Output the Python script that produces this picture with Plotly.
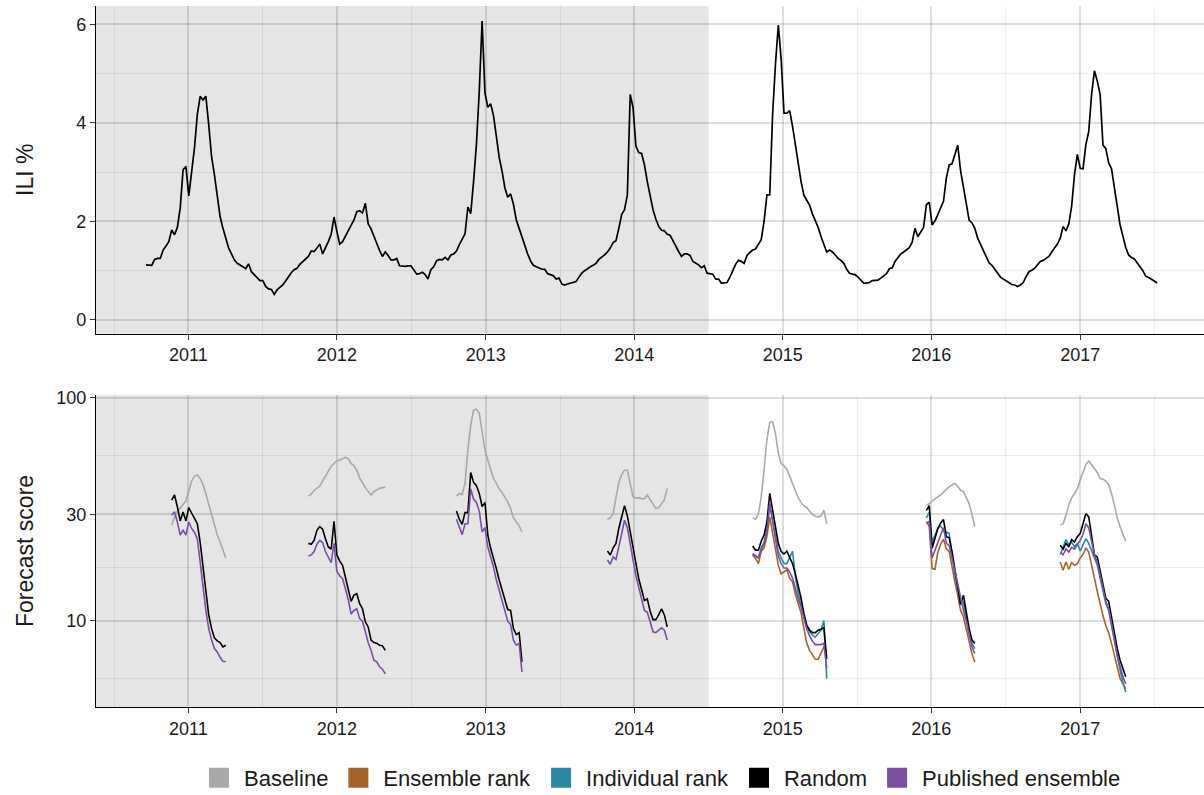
import pandas as pd
import plotly.graph_objects as go

# ---------------------------------------------------------------- ILI series
ili_start = "2010-09-19"   # first weekly observation (week start, Sunday)
ili_pct = [
    1.12, 1.12, 1.11, 1.23, 1.25, 1.25, 1.42, 1.50, 1.59, 1.83,
    1.73, 1.88, 2.27, 3.05, 3.12, 2.52, 2.95, 3.49, 4.17, 4.54,
    4.47, 4.54, 3.97, 3.32, 2.95, 2.54, 2.10, 1.86, 1.66, 1.46,
    1.34, 1.22, 1.15, 1.12, 1.08, 1.04, 1.14, 0.98, 0.92, 0.85,
    0.80, 0.80, 0.68, 0.63, 0.62, 0.52, 0.61, 0.66, 0.71, 0.79,
    0.88, 0.96, 1.02, 1.05, 1.13, 1.19, 1.23, 1.29, 1.40, 1.39,
    1.46, 1.54, 1.34, 1.46, 1.59, 1.74, 2.09, 1.80, 1.54, 1.59,
    1.71, 1.83, 1.92, 2.03, 2.20, 2.22, 2.17, 2.37, 1.95, 1.85,
    1.69, 1.54, 1.41, 1.29, 1.38, 1.31, 1.22, 1.22, 1.25, 1.10,
    1.09, 1.09, 1.10, 1.10, 1.02, 0.93, 0.94, 0.97, 0.92, 0.83,
    1.02, 1.08, 1.20, 1.23, 1.22, 1.27, 1.22, 1.32, 1.34, 1.40,
    1.53, 1.65, 1.75, 2.29, 2.16, 2.81, 3.56, 4.64, 6.07, 4.61,
    4.32, 4.39, 4.15, 3.73, 3.30, 3.02, 2.68, 2.49, 2.56, 2.35,
    2.03, 1.86, 1.67, 1.49, 1.34, 1.20, 1.11, 1.08, 1.06, 1.03,
    1.03, 0.94, 0.92, 0.90, 0.83, 0.85, 0.73, 0.71, 0.73, 0.75,
    0.76, 0.78, 0.87, 0.95, 1.00, 1.05, 1.08, 1.11, 1.15, 1.23,
    1.27, 1.32, 1.38, 1.46, 1.57, 1.61, 1.86, 2.14, 2.24, 2.54,
    4.58, 4.31, 3.53, 3.40, 3.38, 3.15, 2.81, 2.49, 2.24, 2.05,
    1.90, 1.82, 1.81, 1.74, 1.72, 1.61, 1.49, 1.39, 1.29, 1.34,
    1.34, 1.31, 1.19, 1.15, 1.12, 1.06, 1.10, 0.95, 0.94, 0.93,
    0.83, 0.83, 0.75, 0.75, 0.76, 0.87, 1.02, 1.13, 1.21, 1.19,
    1.15, 1.31, 1.37, 1.42, 1.44, 1.54, 1.63, 2.00, 2.54, 2.54,
    4.17, 5.19, 5.99, 5.30, 4.20, 4.20, 4.25, 3.93, 3.56, 3.15,
    2.81, 2.53, 2.44, 2.33, 2.15, 2.03, 1.88, 1.69, 1.53, 1.38,
    1.42, 1.38, 1.32, 1.25, 1.21, 1.15, 1.03, 0.95, 0.93, 0.92,
    0.87, 0.80, 0.75, 0.75, 0.76, 0.80, 0.80, 0.81, 0.85, 0.90,
    0.94, 1.04, 1.06, 1.19, 1.27, 1.34, 1.38, 1.42, 1.47, 1.58,
    1.86, 1.69, 1.80, 1.88, 2.34, 2.39, 1.93, 2.01, 2.14, 2.27,
    2.41, 2.88, 3.15, 3.17, 3.36, 3.55, 3.03, 2.68, 2.34, 2.03,
    1.97, 1.86, 1.66, 1.53, 1.39, 1.27, 1.16, 1.11, 1.03, 0.94,
    0.87, 0.83, 0.79, 0.75, 0.72, 0.71, 0.68, 0.71, 0.76, 0.88,
    0.98, 1.01, 1.05, 1.12, 1.19, 1.21, 1.25, 1.29, 1.38, 1.46,
    1.54, 1.66, 1.90, 1.81, 1.95, 2.31, 2.95, 3.36, 3.08, 3.07,
    3.56, 3.83, 4.58, 5.06, 4.85, 4.58, 3.55, 3.48, 3.19, 3.07,
    2.73, 2.31, 1.93, 1.67, 1.47, 1.32, 1.27, 1.24, 1.15, 1.08,
    1.00, 0.89, 0.86, 0.83, 0.79, 0.75,
]

# ------------------------------------------------- weekly forecast scores
start_2011 = "2010-11-21"
baseline_2011 = [26.8, 29.2, 30.8, 32.1, 33.2, 34.4, 38.2, 42.2, 44.5, 45.0,
                 43.4, 40.8, 37.1, 33.5, 30.2, 26.8, 24.2, 22.5, 20.9, 19.1]
random_2011 = [34.7, 36.6, 32.4, 28.0, 30.7, 28.0, 32.1, 30.2, 28.9, 27.2,
               22.5, 17.2, 13.0, 10.6, 9.21, 8.36, 8.11, 7.97, 7.62, 7.75]
published_2011 = [29.7, 30.8, 27.7, 24.2, 25.4, 24.2, 27.7, 25.9, 24.9, 23.3,
                  18.3, 13.9, 11.1, 9.21, 8.17, 7.49, 7.23, 6.84, 6.55, 6.55]

start_2012 = "2011-10-23"
baseline_2012 = [36.2, 36.9, 38.4, 39.2, 40.1, 42.3, 44.5, 46.8, 49.2, 50.7,
                 52.0, 52.6, 53.4, 54.0, 53.2, 50.7, 49.5, 47.2, 43.7, 41.3,
                 39.5, 37.9, 36.6, 37.9, 38.6, 39.2, 39.5, 39.9]
random_2012 = [22.2, 22.0, 22.9, 25.4, 26.4, 25.7, 23.3, 21.4, 20.9, 27.9,
               19.7, 18.5, 17.7, 15.7, 13.7, 12.2, 13.0, 13.2, 11.9, 11.3,
               9.87, 9.36, 8.17, 7.97, 7.90, 7.75, 7.70, 7.35]
published_2012 = [19.5, 19.7, 20.4, 22.0, 22.9, 22.4, 20.4, 19.1, 18.2, 22.2,
                  16.6, 15.9, 15.4, 13.9, 12.4, 10.7, 11.1, 11.3, 10.2, 9.93,
                  8.83, 7.97, 7.35, 6.64, 6.52, 6.20, 6.05, 5.77]

start_2013 = "2012-10-21"
baseline_2013 = [36.2, 37.2, 36.8, 41.3, 58.2, 75.4, 88.0, 88.9, 85.0, 71.6,
                 58.2, 52.5, 47.8, 43.4, 41.3, 38.9, 37.5, 35.9, 34.1, 31.8,
                 28.9, 27.7, 26.6, 25.0]
random_2013 = [31.0, 28.5, 27.0, 30.5, 30.5, 46.2, 41.7, 40.3, 37.2, 32.5,
               33.9, 24.2, 21.1, 19.1, 17.1, 15.2, 13.7, 12.3, 11.2, 11.1,
               9.21, 8.65, 8.83, 6.52]
published_2013 = [28.5, 26.4, 24.3, 27.2, 27.2, 38.9, 35.1, 33.9, 31.0, 25.0,
                  26.1, 21.4, 19.3, 17.4, 15.2, 13.7, 12.3, 11.1, 9.93, 9.59,
                  8.17, 7.75, 7.90, 5.88]

start_2014 = "2013-10-27"
baseline_2014 = [28.5, 28.9, 30.2, 35.9, 41.7, 45.2, 47.3, 47.3, 40.6, 35.9,
                 35.5, 35.6, 35.2, 35.2, 36.6, 34.8, 33.2, 31.8, 32.1, 33.5,
                 34.8, 39.2]
random_2014 = [20.5, 19.7, 21.2, 22.2, 25.9, 29.5, 32.8, 29.5, 25.4, 21.4,
               18.1, 15.4, 13.8, 12.3, 12.5, 11.0, 10.1, 10.1, 10.6, 11.3,
               10.6, 9.37]
published_2014 = [18.7, 17.9, 19.3, 18.8, 21.4, 25.0, 28.2, 26.1, 22.5, 18.7,
                  15.9, 13.9, 12.5, 11.1, 10.9, 9.87, 8.90, 8.83, 9.05, 9.28,
                  9.05, 8.17]

start_2015 = "2014-10-19"
baseline_2015 = [28.9, 28.5, 30.0, 35.9, 47.3, 64.6, 77.5, 78.0, 69.1, 56.3,
                 50.7, 49.5, 47.8, 44.2, 40.8, 38.1, 35.5, 33.9, 32.7, 32.1,
                 31.0, 29.9, 29.4, 29.2, 29.5, 31.3, 27.2]
ensemble_2015 = [19.7, 19.0, 18.0, 20.4, 21.2, 23.8, 29.2, 24.6, 20.8, 17.7,
                 16.2, 16.5, 16.9, 15.5, 14.9, 13.1, 12.0, 10.8, 9.21, 7.90,
                 7.35, 7.04, 6.70, 6.70, 7.10, 7.62, 7.23]
individual_2015 = [19.8, 19.5, 19.1, 21.2, 22.5, 25.9, 33.0, 28.3, 23.8, 20.4,
                   19.1, 18.0, 18.0, 19.1, 20.5, 15.7, 13.2, 11.8, 10.6, 9.37,
                   8.90, 8.59, 8.43, 8.74, 9.05, 10.0, 5.49]
random_2015 = [21.6, 20.7, 20.7, 22.7, 24.2, 27.7, 37.2, 31.3, 26.4, 22.2,
               20.4, 19.9, 20.5, 19.3, 18.0, 16.2, 14.4, 12.6, 10.7, 9.52,
               9.05, 8.83, 8.83, 9.05, 9.14, 9.28, 6.74]
published_2015 = [20.0, 19.5, 19.1, 20.9, 22.0, 25.0, 34.1, 28.0, 23.2, 19.5,
                  18.0, 17.2, 17.2, 16.5, 15.5, 13.8, 12.5, 11.5, 10.3, 9.14,
                  8.52, 8.08, 7.80, 7.80, 7.80, 7.90, 6.09]

start_2016 = "2015-12-20"
baseline_2016 = [33.0, 33.4, 34.4, 35.1, 35.6, 36.6, 37.6, 38.9, 39.9, 40.6,
                 41.3, 39.9, 38.5, 37.9, 35.9, 33.5, 29.9, 26.4]
ensemble_2016 = [27.9, 26.4, 17.1, 17.0, 20.2, 22.0, 23.2, 21.0, 20.4, 17.2,
                 14.9, 13.0, 11.1, 10.4, 9.21, 8.02, 7.10, 6.52]
individual_2016 = [28.9, 30.7, 22.5, 24.3, 25.9, 26.6, 25.4, 24.9, 24.6, 19.8,
                   16.0, 13.9, 12.2, 12.1, 10.3, 8.74, 7.90, 7.49]
random_2016 = [31.2, 32.8, 21.1, 23.3, 25.9, 27.4, 28.4, 23.8, 23.5, 20.4,
               17.1, 14.4, 11.8, 13.0, 10.7, 9.21, 8.17, 7.90]
published_2016 = [27.2, 27.9, 19.1, 20.8, 22.5, 24.2, 26.1, 22.2, 21.7, 19.3,
                  16.7, 14.6, 12.5, 11.1, 10.0, 8.74, 7.62, 7.10]

start_2017 = "2016-11-13"
baseline_2017 = [26.8, 27.2, 29.7, 33.0, 35.5, 37.2, 38.9, 42.7, 46.5, 50.2,
                 52.0, 50.2, 48.1, 46.2, 43.4, 43.1, 42.3, 40.6, 37.2, 33.0,
                 28.9, 26.4, 24.6, 22.7]
ensemble_2017 = [18.3, 16.8, 18.3, 17.0, 18.2, 17.7, 18.0, 19.1, 19.8, 21.2,
                 20.3, 18.0, 15.5, 13.5, 11.7, 10.5, 9.50, 8.80, 7.90, 7.00,
                 6.10, 5.50, 5.20, 4.95]
individual_2017 = [19.8, 21.2, 23.1, 21.8, 22.5, 21.4, 22.2, 20.5, 22.0, 23.3,
                   22.2, 20.7, 19.1, 17.7, 15.5, 13.4, 11.9, 11.1, 9.52, 8.02,
                   6.84, 5.98, 5.30, 4.77]
random_2017 = [21.8, 20.9, 22.2, 21.4, 23.1, 22.5, 23.8, 24.6, 27.2, 30.2,
               29.2, 24.2, 19.7, 19.3, 16.8, 14.2, 12.6, 12.2, 10.4, 8.74,
               7.49, 6.64, 6.09, 5.60]
published_2017 = [20.3, 19.7, 21.0, 20.3, 21.3, 20.9, 21.9, 22.9, 24.4, 27.2,
                  26.1, 22.2, 19.7, 18.3, 16.0, 13.6, 12.2, 11.3, 9.80, 8.28,
                  6.98, 6.20, 5.60, 5.19]

model_names = ["Baseline", "Ensemble rank", "Individual rank", "Random",
               "Published ensemble"]
model_colors = ["#a9a9a9", "#a2652a", "#2a8aa2", "#000000", "#7a4fa3"]

# (model, season start, weekly scores); drawn in legend order
score_series = [
    ("Baseline", start_2011, baseline_2011), ("Baseline", start_2012, baseline_2012),
    ("Baseline", start_2013, baseline_2013), ("Baseline", start_2014, baseline_2014),
    ("Baseline", start_2015, baseline_2015), ("Baseline", start_2016, baseline_2016),
    ("Baseline", start_2017, baseline_2017),
    ("Ensemble rank", start_2015, ensemble_2015), ("Ensemble rank", start_2016, ensemble_2016),
    ("Ensemble rank", start_2017, ensemble_2017),
    ("Individual rank", start_2015, individual_2015), ("Individual rank", start_2016, individual_2016),
    ("Individual rank", start_2017, individual_2017),
    ("Random", start_2011, random_2011), ("Random", start_2012, random_2012),
    ("Random", start_2013, random_2013), ("Random", start_2014, random_2014),
    ("Random", start_2015, random_2015), ("Random", start_2016, random_2016),
    ("Random", start_2017, random_2017),
    ("Published ensemble", start_2011, published_2011), ("Published ensemble", start_2012, published_2012),
    ("Published ensemble", start_2013, published_2013), ("Published ensemble", start_2014, published_2014),
    ("Published ensemble", start_2015, published_2015), ("Published ensemble", start_2016, published_2016),
    ("Published ensemble", start_2017, published_2017),
]

year_ticks = [f"{y}-01-01" for y in range(2011, 2018)]
year_labels = [str(y) for y in range(2011, 2018)]
mid_year_ticks = [f"{y}-07-02 12:00" for y in range(2010, 2018)]
x_range = ["2010-05-19", "2017-11-01 07:00"]
shade_end = "2014-07-01"

FONT = "Liberation Sans, Arial, Helvetica, sans-serif"
TEXT = "#1a1a1a"
MAJOR_GRID = "rgba(0,0,0,0.125)"
MINOR_GRID = "rgba(0,0,0,0.065)"

color_of = dict(zip(model_names, model_colors))

fig = go.Figure()

# top panel: ILI %
ili_dates = pd.date_range(ili_start, periods=len(ili_pct), freq="7D")
fig.add_trace(go.Scatter(x=ili_dates, y=ili_pct, mode="lines",
                         line=dict(color="#000000", width=1.7),
                         showlegend=False, xaxis="x", yaxis="y",
                         hoverinfo="x+y"))

# bottom panel: forecast scores per season
for model, start, values in score_series:
    dates = pd.date_range(start, periods=len(values), freq="7D")
    fig.add_trace(go.Scatter(x=dates, y=values, mode="lines",
                             line=dict(color=color_of[model], width=1.6),
                             name=model, legendgroup=model, showlegend=False,
                             xaxis="x2", yaxis="y2"))

# square legend keys
for model, col in zip(model_names, model_colors):
    fig.add_trace(go.Scatter(x=[None], y=[None], mode="markers",
                             marker=dict(symbol="square", size=16, color=col,
                                         line=dict(color=col, width=4)),
                             name=model, legendgroup=model,
                             xaxis="x2", yaxis="y2"))

x_common = dict(
    type="date", range=x_range,
    tickmode="array", tickvals=year_ticks, ticktext=year_labels,
    showgrid=True, gridcolor=MAJOR_GRID, gridwidth=1.6,
    minor=dict(tickmode="array", tickvals=mid_year_ticks, showgrid=True,
               gridcolor=MINOR_GRID, gridwidth=1, ticks=""),
    showline=True, linecolor="#000000", linewidth=1.4,
    ticks="outside", ticklen=5, tickwidth=1.2, tickcolor="#333333",
    tickfont=dict(family=FONT, size=18, color=TEXT),
    zeroline=False, fixedrange=True,
)

fig.update_layout(
    width=1204, height=795,
    margin=dict(l=96, r=0, t=6, b=88, autoexpand=False),
    paper_bgcolor="white", plot_bgcolor="white",
    font=dict(family=FONT, color=TEXT),
    xaxis=dict(**x_common, anchor="y", domain=[0, 1]),
    xaxis2=dict(**x_common, anchor="y2", domain=[0, 1]),
    yaxis=dict(
        domain=[0.5328, 1], range=[-0.275, 6.375],
        tickmode="array", tickvals=[0, 2, 4, 6], ticktext=["0", "2", "4", "6"],
        showgrid=True, gridcolor=MAJOR_GRID, gridwidth=1.6,
        minor=dict(tickmode="array", tickvals=[1, 3, 5], showgrid=True,
                   gridcolor=MINOR_GRID, gridwidth=1, ticks=""),
        showline=True, linecolor="#000000", linewidth=1.4,
        ticks="outside", ticklen=5, tickwidth=1.2, tickcolor="#333333",
        tickfont=dict(family=FONT, size=18, color=TEXT),
        zeroline=False, anchor="x",
    ),
    yaxis2=dict(
        type="log", domain=[0, 0.445], range=[0.612, 2.012],
        tickmode="array", tickvals=[10, 30, 100], ticktext=["10", "30", "100"],
        showgrid=True, gridcolor=MAJOR_GRID, gridwidth=1.6,
        minor=dict(tickmode="array", tickvals=[5.48, 17.3, 54.8], showgrid=True,
                   gridcolor=MINOR_GRID, gridwidth=1, ticks=""),
        showline=True, linecolor="#000000", linewidth=1.4,
        ticks="outside", ticklen=5, tickwidth=1.2, tickcolor="#333333",
        tickfont=dict(family=FONT, size=18, color=TEXT),
        zeroline=False, anchor="x2",
    ),
    legend=dict(orientation="h", x=0.509, xanchor="center", y=-0.1013,
                yanchor="middle", font=dict(family=FONT, size=22, color=TEXT),
                itemwidth=40, bgcolor="rgba(0,0,0,0)", traceorder="normal"),
    shapes=[
        dict(type="rect", xref="x", yref="y domain", x0=x_range[0], x1=shade_end,
             y0=0, y1=1, fillcolor="#e5e5e5", line=dict(width=0), layer="below"),
        dict(type="rect", xref="x2", yref="y2 domain", x0=x_range[0], x1=shade_end,
             y0=0, y1=1, fillcolor="#e5e5e5", line=dict(width=0), layer="below"),
    ],
    annotations=[
        dict(text="ILI %", xref="paper", yref="paper", x=-0.0641, y=0.766,
             xanchor="center", yanchor="middle", textangle=-90, showarrow=False,
             font=dict(family=FONT, size=23, color=TEXT)),
        dict(text="Forecast score", xref="paper", yref="paper", x=-0.0641, y=0.2225,
             xanchor="center", yanchor="middle", textangle=-90, showarrow=False,
             font=dict(family=FONT, size=23, color=TEXT)),
    ],
)

fig.write_html("out.html")
